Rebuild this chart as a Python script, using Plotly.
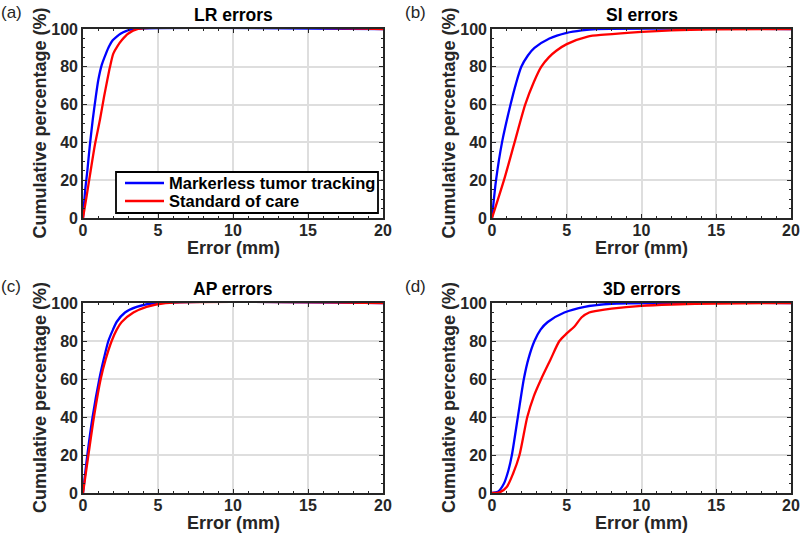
import plotly.graph_objects as go

# ---- data ----
lr_mtt_x = [0, 0.15, 0.29, 0.45, 0.65, 0.85, 1.02, 1.25, 1.53, 1.75, 1.98, 2.25, 2.5, 2.9, 3.33, 20]
lr_mtt_y = [0, 15, 25, 38, 52, 64, 73, 81, 87, 91, 94, 96, 97.5, 99, 100, 100]
lr_soc_x = [0, 0.25, 0.51, 0.8, 1.13, 1.4, 1.62, 1.8, 2.02, 2.3, 2.58, 3.0, 3.67, 20]
lr_soc_y = [0, 12, 25, 39, 52, 64, 73, 80, 87, 91, 94, 97.5, 100, 100]

si_mtt_x = [0, 0.27, 0.67, 1.24, 1.6, 1.96, 2.4, 2.84, 3.84, 5.0, 6.0, 7.0, 20]
si_mtt_y = [0, 20, 40, 60, 71, 80, 86, 90, 95, 98, 99.3, 100, 100]
si_soc_x = [0, 0.8, 1.51, 2.22, 2.8, 3.29, 3.8, 4.3, 5.0, 6.4, 7.5, 10, 12, 15, 20]
si_soc_y = [0, 20, 40, 60, 72, 80, 85, 88.5, 92, 96, 97, 98.5, 99.3, 99.8, 100]

ap_mtt_x = [0, 0.29, 0.64, 1.09, 1.4, 1.69, 2.0, 2.24, 2.8, 3.58, 4.8, 20]
ap_mtt_y = [0, 20, 40, 60, 71, 80, 86, 90, 95, 98, 100, 100]
ap_soc_x = [0, 0.36, 0.73, 1.18, 1.5, 1.91, 2.25, 2.58, 3.36, 4.24, 5.5, 20]
ap_soc_y = [0, 20, 40, 60, 70, 80, 86, 90, 95, 98, 100, 100]

d3_mtt_x = [0, 0.4, 0.8, 1.1, 1.33, 1.73, 2.13, 2.45, 2.84, 3.25, 3.73, 4.84, 6.2, 8, 20]
d3_mtt_y = [0, 0.7, 5, 12, 20, 40, 60, 71, 80, 86, 90, 95, 98, 99.6, 100]
d3_soc_x = [0, 0.5, 1.0, 1.4, 1.84, 2.36, 2.8, 3.29, 3.9, 4.51, 5.0, 5.5, 6.0, 6.5, 7, 8, 10, 12, 15, 20]
d3_soc_y = [0, 0.3, 3.3, 10, 20, 40, 51, 60, 70, 80, 84, 87.5, 92.5, 95, 95.8, 97, 98.5, 99.2, 99.7, 100]

panel_titles = ["LR errors", "SI errors", "AP errors", "3D errors"]
panel_labels = ["(a)", "(b)", "(c)", "(d)"]
series_names = ["Markerless tumor tracking", "Standard of care"]
x_ticks = [0, 5, 10, 15, 20]
y_ticks = [0, 20, 40, 60, 80, 100]
x_title = "Error (mm)"
y_title = "Cumulative percentage (%)"

panels = [
    (lr_mtt_x, lr_mtt_y, lr_soc_x, lr_soc_y),
    (si_mtt_x, si_mtt_y, si_soc_x, si_soc_y),
    (ap_mtt_x, ap_mtt_y, ap_soc_x, ap_soc_y),
    (d3_mtt_x, d3_mtt_y, d3_soc_x, d3_soc_y),
]

W, H = 800, 534
FONT = "Liberation Sans, Arial, Helvetica, sans-serif"
DARK = "#262626"
# plot-area pixel boxes: (left, right, top, bottom)
boxes = [(83, 383, 29, 218), (492, 791, 29, 218), (83, 383, 303, 493), (492, 791, 303, 493)]


def px(x):
    return x / W


def py(y):
    return 1 - y / H


fig = go.Figure()
layout = dict(
    width=W, height=H, margin=dict(l=0, r=0, t=0, b=0, autoexpand=False),
    paper_bgcolor="white", plot_bgcolor="white",
    font=dict(family=FONT, color=DARK),
    showlegend=False,
)
annotations = []
shapes = []
colors = ["#0000ff", "#ff0000"]

for i, (bx, by, rx, ry) in enumerate(panels):
    xa = "x" if i == 0 else f"x{i+1}"
    ya = "y" if i == 0 else f"y{i+1}"
    for j, (sx, sy) in enumerate([(bx, by), (rx, ry)]):
        fig.add_trace(go.Scatter(
            x=sx, y=sy, mode="lines", name=series_names[j],
            line=dict(color=colors[j], width=2.3, shape="spline", smoothing=0.7),
            xaxis=xa, yaxis=ya,
        ))
    l, r, t, b = boxes[i]
    axis_common = dict(
        showline=True, linecolor=DARK, linewidth=1.6, mirror="ticks",
        ticks="inside", ticklen=4, tickwidth=1.2, tickcolor=DARK,
        showgrid=True, gridcolor="#dedede", gridwidth=1.6,
        zeroline=False, automargin=False,
        tickfont=dict(size=16, family=FONT, color=DARK),
    )
    layout["xaxis" if i == 0 else f"xaxis{i+1}"] = dict(
        axis_common, domain=[px(l), px(r)], range=[0, 20], anchor=ya,
        tickvals=x_ticks, ticktext=[f"<b>{v}</b>" for v in x_ticks],
        ticklabelstandoff=-3,
        minor=dict(dtick=1, ticks="inside", ticklen=2.5, tickcolor=DARK, showgrid=False),
    )
    layout["yaxis" if i == 0 else f"yaxis{i+1}"] = dict(
        axis_common, domain=[py(b), py(t)], range=[0, 100], anchor=xa,
        tickvals=y_ticks, ticktext=[f"<b>{v}</b>" for v in y_ticks],
        minor=dict(dtick=5, ticks="inside", ticklen=2.5, tickcolor=DARK, showgrid=False),
    )
    # panel title
    annotations.append(dict(
        text=f"<b>{panel_titles[i]}</b>", x=px((l + r) / 2), y=py(t - 14),
        xref="paper", yref="paper", showarrow=False, xanchor="center", yanchor="middle",
        font=dict(size=17.5, family=FONT, color="black"),
    ))
    # panel label
    annotations.append(dict(
        text=panel_labels[i], x=px(0 if i % 2 == 0 else 404), y=py(t - 17),
        xref="paper", yref="paper", showarrow=False, xanchor="left", yanchor="middle",
        xshift=-1, font=dict(size=17, family=FONT, color=DARK),
    ))
    # axis titles
    annotations.append(dict(
        text=f"<b>{x_title}</b>", x=px((l + r) / 2), y=py(b + 30),
        xref="paper", yref="paper", showarrow=False, xanchor="center", yanchor="middle",
        font=dict(size=18, family=FONT, color=DARK),
    ))
    annotations.append(dict(
        text=f"<b>{y_title}</b>", x=px(l - 43), y=py((t + b) / 2), textangle=-90,
        xref="paper", yref="paper", showarrow=False, xanchor="center", yanchor="middle",
        font=dict(size=18, family=FONT, color=DARK),
    ))

# legend box (panel a)
LX0, LX1, LY0, LY1 = 116, 378, 172, 213
shapes.append(dict(type="rect", xref="paper", yref="paper",
                   x0=px(LX0), x1=px(LX1), y0=py(LY1), y1=py(LY0),
                   line=dict(color="black", width=1.8), fillcolor="white", layer="above"))
for j, yy in enumerate([183, 201]):
    shapes.append(dict(type="line", xref="paper", yref="paper",
                       x0=px(125), x1=px(164), y0=py(yy), y1=py(yy),
                       line=dict(color=colors[j], width=2.5), layer="above"))
    annotations.append(dict(
        text=f"<b>{series_names[j]}</b>", x=px(167), y=py(yy),
        xref="paper", yref="paper", showarrow=False, xanchor="left", yanchor="middle",
        font=dict(size=16.5, family=FONT, color="black"),
    ))

layout["annotations"] = annotations
layout["shapes"] = shapes
fig.update_layout(**layout)

fig.write_html("out.html", config={"displayModeBar": False},
               post_script="document.body.style.margin='0';document.body.style.overflow='hidden';")
